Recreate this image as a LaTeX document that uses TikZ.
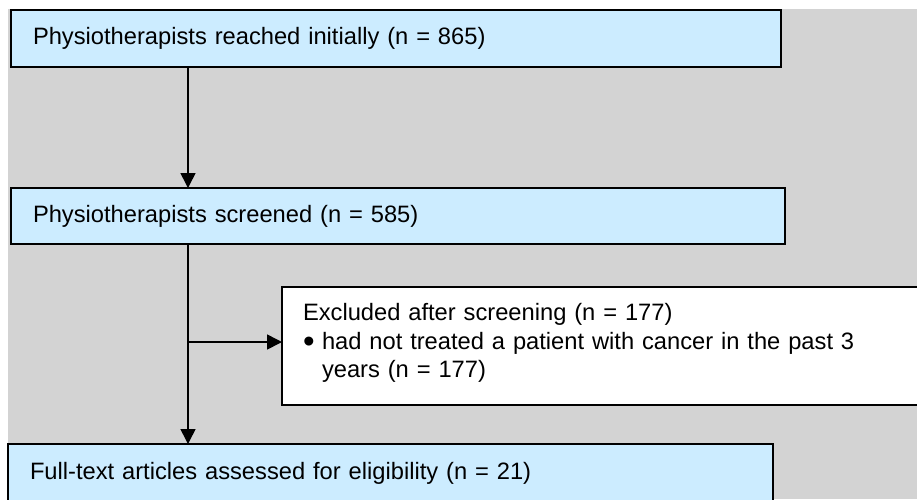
\documentclass[tikz,border=0pt]{standalone}
\usepackage{fontspec}
\setmainfont{Liberation Sans}
\usetikzlibrary{arrows.meta}
\definecolor{bggray}{HTML}{D3D3D3}
\definecolor{boxblue}{HTML}{CCECFF}
\newcommand{\bigbullet}{\makebox[19pt][l]{\raisebox{-3.5pt}{\fontsize{33}{28.5}\selectfont •}}}
\begin{document}
\begin{tikzpicture}[x=1pt,y=-1pt,
  every node/.style={font=\fontsize{23.7}{28.5}\selectfont},
  bluebox/.style={draw=black, line width=2pt, fill=boxblue, anchor=north west,
    outer sep=0pt, inner xsep=22pt, inner ysep=0pt, align=left,
    text height=17pt, text depth=5pt},
  whitebox/.style={draw=black, line width=2pt, fill=white, anchor=north west,
    outer sep=0pt, inner xsep=21pt, inner ysep=0pt, align=left},
  link/.style={line width=1.6pt, -{Triangle[width=15pt,length=15pt]}}]
\clip (0,0) rectangle (917,499);
\fill[bggray] (8,9) rectangle (917,499);
\node[bluebox, minimum width=770pt, minimum height=57pt, text width=726pt] (b1) at (11,10)
  {Physiotherapists reached initially (n = 865)};
\node[bluebox, minimum width=774pt, minimum height=56pt, text width=730pt] (b2) at (11,188)
  {Physiotherapists screened (n = 585)};
\node[bluebox, minimum width=765pt, minimum height=58pt, text width=721pt] (b3) at (8,444)
  {Full-text articles assessed for eligibility (n = 21)};
\node[whitebox, minimum width=650pt, minimum height=118pt, text width=608pt] (ex) at (282,287)
  {Excluded after screening (n = 177)\\
   \bigbullet had not treated a patient with cancer in the past 3\\
   \hspace*{19pt}years (n = 177)\rule[-10.5pt]{0pt}{0pt}};
\coordinate (c1) at (188,0);
\coordinate (br) at (188,342);
\draw[link] (c1 |- b1.south) -- (c1 |- b2.north);
\draw[link] (c1 |- b2.south) -- (c1 |- b3.north);
\draw[link] (br) -- (br -| ex.west);
\end{tikzpicture}
\end{document}
